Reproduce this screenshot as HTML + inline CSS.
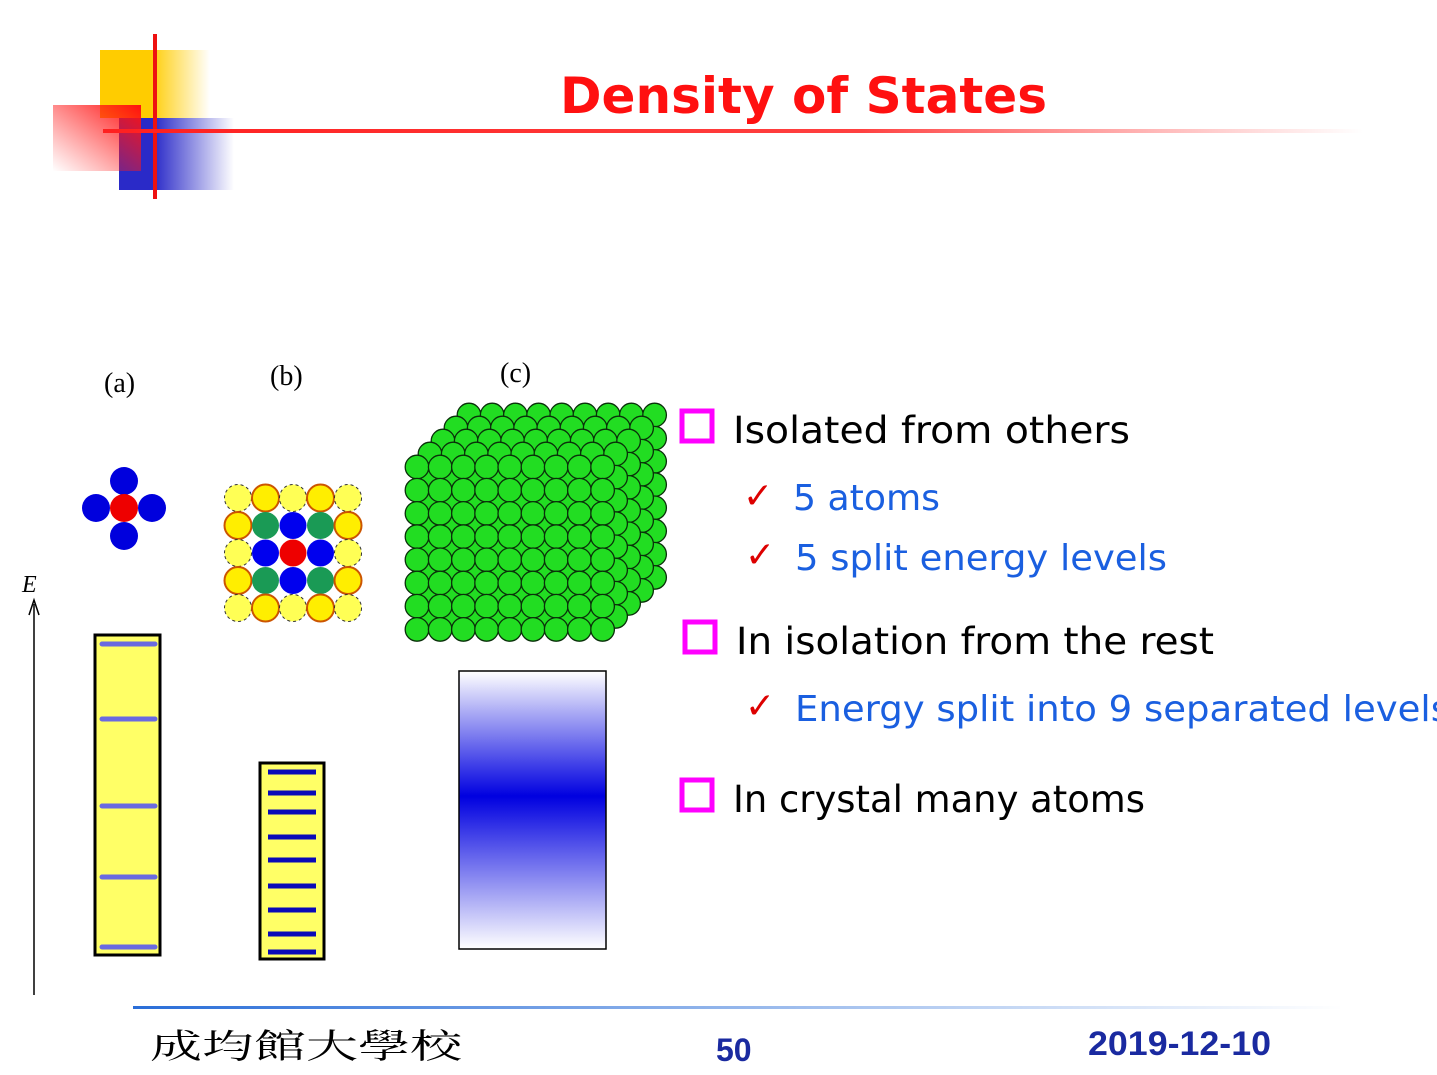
<!DOCTYPE html>
<html><head><meta charset="utf-8">
<style>
html,body{margin:0;padding:0;background:#fff;}
svg{display:block;}
.t{font-family:"DejaVu Sans","Liberation Sans",sans-serif;}
</style></head>
<body>
<svg id="s" width="1437" height="1075" viewBox="0 0 1437 1075" xmlns="http://www.w3.org/2000/svg">
<defs>
<linearGradient id="gy" x1="0" x2="1"><stop offset="0.45" stop-color="#ffcc00"/><stop offset="1" stop-color="#ffcc00" stop-opacity="0"/></linearGradient>
<linearGradient id="gb" x1="0" x2="1"><stop offset="0.3" stop-color="#2a2ac8"/><stop offset="1" stop-color="#2a2ac8" stop-opacity="0"/></linearGradient>
<linearGradient id="gr" x1="1" y1="0" x2="0" y2="1"><stop offset="0" stop-color="#ff1010"/><stop offset="1" stop-color="#ff2020" stop-opacity="0"/></linearGradient>
<linearGradient id="gl" x1="0" x2="1"><stop offset="0" stop-color="#ff2020"/><stop offset="0.6" stop-color="#ff4040"/><stop offset="1" stop-color="#ff6060" stop-opacity="0"/></linearGradient>
<linearGradient id="gf" x1="0" x2="1"><stop offset="0" stop-color="#2a6ed8"/><stop offset="1" stop-color="#2a6ed8" stop-opacity="0"/></linearGradient>
<linearGradient id="gband" x1="0" y1="0" x2="0" y2="1"><stop offset="0" stop-color="#ffffff"/><stop offset="0.45" stop-color="#0000e0"/><stop offset="1" stop-color="#ffffff"/></linearGradient>
</defs>
<g>
<rect x="100" y="50" width="110" height="68" fill="url(#gy)"/>
<rect x="119" y="118" width="115" height="72" fill="url(#gb)"/>
<rect x="53" y="105" width="88" height="66" fill="url(#gr)"/>
<rect x="153" y="34" width="4" height="165" fill="#ee1111"/>
</g>
<rect x="103" y="129" width="1260" height="4" fill="url(#gl)"/>
<text class="t" x="560" y="113" font-size="50" font-weight="bold" fill="#ff1010" textLength="487" lengthAdjust="spacingAndGlyphs">Density of States</text>

<text x="104" y="392" font-family="Liberation Serif,serif" font-size="28">(a)</text>
<text x="270" y="385" font-family="Liberation Serif,serif" font-size="28">(b)</text>
<text x="500" y="382" font-family="Liberation Serif,serif" font-size="28">(c)</text>

<g>
<circle cx="124" cy="481" r="14" fill="#0000dd"/>
<circle cx="124" cy="536" r="14" fill="#0000dd"/>
<circle cx="96" cy="508" r="14" fill="#0000dd"/>
<circle cx="152" cy="508" r="14" fill="#0000dd"/>
<circle cx="124" cy="508" r="14" fill="#ee0000"/>
</g>
<g id="clusterB"></g>
<g id="crystal"></g>

<text x="22" y="592" font-family="Liberation Serif,serif" font-style="italic" font-size="24">E</text>
<line x1="34" y1="995" x2="34" y2="604" stroke="#000" stroke-width="1.5"/>
<path d="M29,615 L34,600 L39,615" fill="none" stroke="#000" stroke-width="1.5"/>

<rect x="95" y="635" width="65" height="320" fill="#ffff66" stroke="#000" stroke-width="3"/>
<g id="levA"></g>
<rect x="260" y="763" width="64" height="196" fill="#ffff66" stroke="#000" stroke-width="3"/>
<g id="levB"></g>
<rect x="459" y="671" width="147" height="278" fill="url(#gband)" stroke="#000" stroke-width="1.5"/>

<g class="t">
<rect x="682" y="411" width="30" height="30" fill="none" stroke="#ff00ff" stroke-width="5"/>
<text x="733" y="443" font-size="37" fill="#000" textLength="397" lengthAdjust="spacingAndGlyphs">Isolated from others</text>
<text x="743" y="508" font-size="36" font-weight="bold" fill="#dd0000">✓</text>
<text x="793" y="510" font-size="36" fill="#1a5fe0" textLength="147" lengthAdjust="spacingAndGlyphs">5 atoms</text>
<text x="745" y="567" font-size="36" font-weight="bold" fill="#dd0000">✓</text>
<text x="795" y="570" font-size="36" fill="#1a5fe0" textLength="372" lengthAdjust="spacingAndGlyphs">5 split energy levels</text>
<rect x="685" y="622" width="30" height="30" fill="none" stroke="#ff00ff" stroke-width="5"/>
<text x="736" y="654" font-size="37" fill="#000" textLength="478" lengthAdjust="spacingAndGlyphs">In isolation from the rest</text>
<text x="745" y="718" font-size="36" font-weight="bold" fill="#dd0000">✓</text>
<text x="795" y="721" font-size="36" fill="#1a5fe0" textLength="655" lengthAdjust="spacingAndGlyphs">Energy split into 9 separated levels</text>
<rect x="682" y="780" width="30" height="30" fill="none" stroke="#ff00ff" stroke-width="5"/>
<text x="733" y="812" font-size="37" fill="#000" textLength="412" lengthAdjust="spacingAndGlyphs">In crystal many atoms</text>
</g>

<rect x="133" y="1006" width="1210" height="3" fill="url(#gf)"/>
<text x="150" y="1058" font-family="'Liberation Serif','Noto Serif CJK TC','Noto Sans CJK TC',serif" font-size="34" textLength="312" lengthAdjust="spacingAndGlyphs">成均館大學校</text>
<text x="716" y="1061" font-family="Liberation Sans,sans-serif" font-weight="bold" font-size="32" fill="#1a2aa0">50</text>
<text x="1088" y="1055" font-family="Liberation Sans,sans-serif" font-weight="bold" font-size="34" fill="#1a2aa0" textLength="183" lengthAdjust="spacingAndGlyphs">2019-12-10</text>
</svg>
<script>
const NS='http://www.w3.org/2000/svg';
// energy levels (y positions, px in slide coords)
const levelsA=[644,719,806,877,947];
const levelsB=[772,793,812,837,860,886,910,934,952];
// cluster b grid types: Y=yellow solid, D=yellow dashed, G=green, B=blue, R=red
const clusterGrid=["DYDYD","YGBGY","DBRBD","YGBGY","DYDYD"];
const crystalCols=9, crystalRows=8, crystalLayers=5;

function mk(parent,tag,attrs){const e=document.createElementNS(NS,tag);for(const k in attrs)e.setAttribute(k,attrs[k]);parent.appendChild(e);return e;}

const gA=document.getElementById('levA');
levelsA.forEach((y,i)=>{
  const l=mk(gA,'line',{x1:102,x2:155,y1:y,y2:y,stroke:'#6a6ae0','stroke-width':5,'stroke-dasharray':'2 1','stroke-linecap':'round'});
  
  
});
const gB=document.getElementById('levB');
levelsB.forEach((y,i)=>{
  const l=mk(gB,'line',{x1:268,x2:316,y1:y,y2:y,stroke:'#0a0ab8','stroke-width':5});
  
  
});
const cb=document.getElementById('clusterB');
const col={Y:'#ffee00',D:'#ffff55',G:'#1a9a55',B:'#0000ee',R:'#ee0000'};
clusterGrid.forEach((row,r)=>{[...row].forEach((t,c)=>{
  const a={cx:238+c*27.5,cy:498+r*27.5,r:13.5,fill:col[t]};
  if(t==='Y'){a.stroke='#cc5500';a['stroke-width']=2;}
  if(t==='D'){a.stroke='#333';a['stroke-width']=1;a['stroke-dasharray']='3 3';}
  const e=mk(cb,'circle',a);
  
  
});});
const cr=document.getElementById('crystal');
for(let k=crystalLayers-1;k>=0;k--){
  for(let r=0;r<crystalRows;r++)for(let c=0;c<crystalCols;c++){
    const e=mk(cr,'circle',{cx:417+c*23.2+k*13,cy:467+r*23.2-k*13,r:11.8,fill:'#22dd22',stroke:'#0a300a','stroke-width':1.3});
    
    
  }
}
</script>
</body></html>
